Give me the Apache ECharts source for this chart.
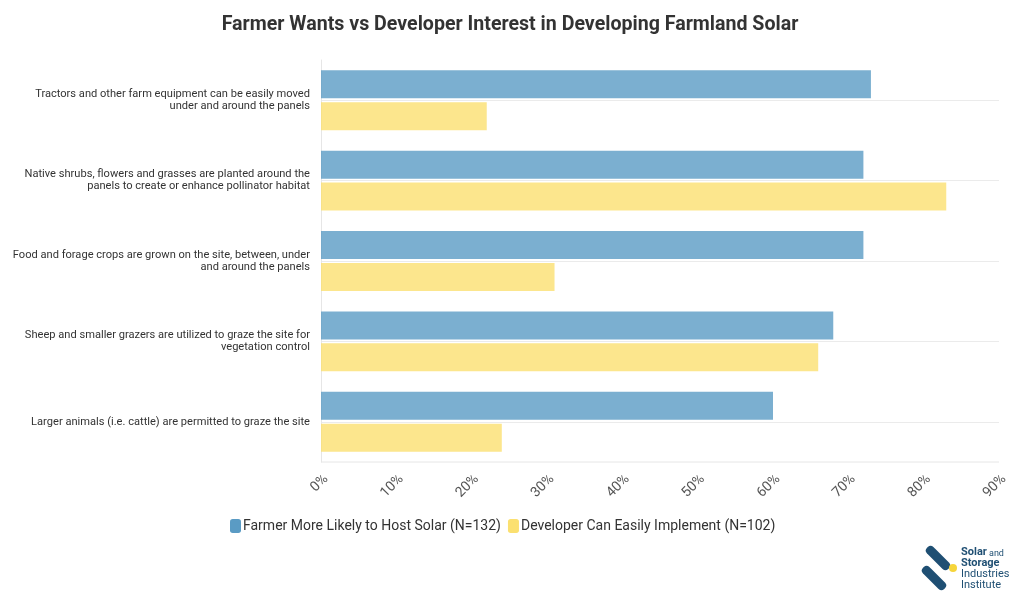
<!DOCTYPE html>
<html>
<head>
<meta charset="utf-8">
<script src="https://cdn.jsdelivr.net/npm/echarts@6/dist/echarts.min.js"></script>
<style>html,body{margin:0;padding:0;background:#fff;}#chart{width:1020px;height:602px;}</style>
</head>
<body>
<div id="chart"></div>
<script>
const categories = [
  "Tractors and other farm equipment can be easily moved\nunder and around the panels",
  "Native shrubs, flowers and grasses are planted around the\npanels to create or enhance pollinator habitat",
  "Food and forage crops are grown on the site, between, under\nand around the panels",
  "Sheep and smaller grazers are utilized to graze the site for\nvegetation control",
  "Larger animals (i.e. cattle) are permitted to graze the site"
];
const farmerName = "Farmer More Likely to Host Solar (N=132)";
const developerName = "Developer Can Easily Implement (N=102)";
const farmerValues = [73, 72, 72, 68, 60];
const developerValues = [22, 83, 31, 66, 24];
const xTicks = [0, 10, 20, 30, 40, 50, 60, 70, 80, 90];

const FONT = 'Roboto, "Noto Sans", sans-serif';
const chart = echarts.init(document.getElementById('chart'), null, {renderer: 'canvas'});
const option = {
  backgroundColor: '#ffffff',
  textStyle: {fontFamily: FONT},
  title: {
    text: 'Farmer Wants vs Developer Interest in Developing Farmland Solar',
    left: 'center', top: 10,
    textStyle: {fontFamily: FONT, fontSize: 19.6, fontWeight: 'bold', color: '#333333'}
  },
  legend: {
    bottom: 64, left: 225,
    icon: 'roundRect', itemWidth: 11, itemHeight: 14, itemGap: 7,
    textStyle: {fontFamily: FONT, fontSize: 14, color: '#333333', padding: [0, 0, 0, -3]},
    data: [
      {name: farmerName, itemStyle: {color: '#5A9BC4', opacity: 1}},
      {name: developerName, itemStyle: {color: '#FBE070', opacity: 1}}
    ]
  },
  grid: {left: 321, right: 21, top: 60, bottom: 140},
  xAxis: {
    type: 'value', min: xTicks[0], max: xTicks[xTicks.length - 1], interval: 10,
    axisLine: {show: false},
    axisTick: {show: false},
    splitLine: {show: false},
    axisLabel: {
      rotate: 45, fontFamily: FONT, fontSize: 14, color: '#555555', margin: 10,
      verticalAlign: 'top',
      formatter: v => v + '%'
    }
  },
  yAxis: {
    type: 'category', inverse: true, data: categories,
    axisLine: {show: true, lineStyle: {color: '#e6e6e6', width: 1}},
    axisTick: {show: false},
    splitLine: {show: true, alignWithLabel: true, lineStyle: {color: '#ebebeb', width: 1}},
    axisLabel: {
      fontFamily: FONT, fontSize: 11.1, color: '#333333', lineHeight: 12, margin: 11, align: 'right'
    }
  },
  series: [
    {
      name: farmerName, type: 'bar', data: farmerValues,
      barWidth: 28, barGap: '14%',
      itemStyle: {color: '#5A9BC4', opacity: 0.8}
    },
    {
      name: developerName, type: 'bar', data: developerValues,
      barWidth: 28, barGap: '14%',
      itemStyle: {color: '#FBE070', opacity: 0.8}
    }
  ],
  graphic: [
    {type: 'line', shape: {x1: 321, y1: 462, x2: 999, y2: 462}, style: {stroke: '#e6e6e6', lineWidth: 1}, silent: true},
    {type: 'rect', shape: {x: -15, y: -4.5, width: 30, height: 9, r: 4}, x: 938, y: 558, rotation: -Math.PI / 4, style: {fill: '#1f4f73'}},
    {type: 'rect', shape: {x: -15, y: -4.5, width: 30, height: 9, r: 4}, x: 934, y: 578, rotation: -Math.PI / 4, style: {fill: '#1f4f73'}},
    {type: 'circle', shape: {cx: 953, cy: 568, r: 4}, style: {fill: '#f6d53b'}},
    {type: 'text', x: 961, y: 547, style: {text: 'Solar', font: 'bold 11px ' + FONT, fill: '#1f4f73'}},
    {type: 'text', x: 989, y: 549, style: {text: 'and', font: '9px ' + FONT, fill: '#1f4f73'}},
    {type: 'text', x: 961, y: 558, style: {text: 'Storage', font: 'bold 11px ' + FONT, fill: '#1f4f73'}},
    {type: 'text', x: 961, y: 569, style: {text: 'Industries', font: '11px ' + FONT, fill: '#1f4f73'}},
    {type: 'text', x: 961, y: 580, style: {text: 'Institute', font: '11px ' + FONT, fill: '#1f4f73'}}
  ]
};
chart.setOption(option);
</script>
</body>
</html>
